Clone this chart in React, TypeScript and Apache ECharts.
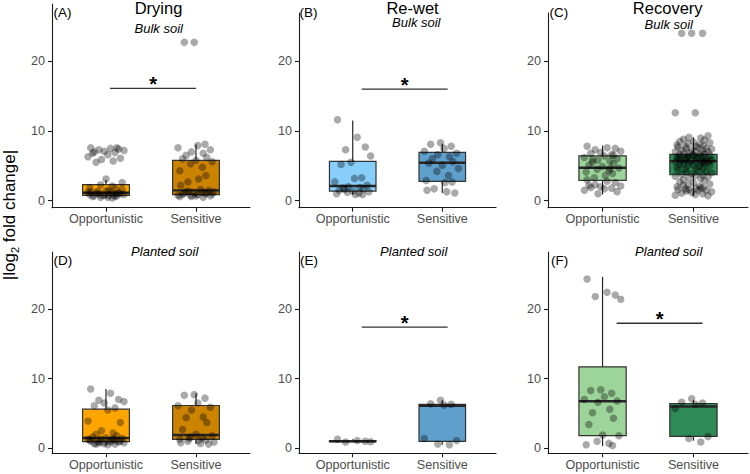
import { useEffect, useRef } from "react";
import * as echarts from "echarts";

// ---------- data ----------
const GROUPS = ["Opportunistic", "Sensitive"];
const PHASES = ["Drying", "Re-wet", "Recovery"];
const PANEL_TAGS = ["(A)", "(B)", "(C)", "(D)", "(E)", "(F)"];
const SOILS = ["Bulk soil", "Bulk soil", "Bulk soil", "Planted soil", "Planted soil", "Planted soil"];
const Y_TICKS = [0, 10, 20];
const X_TICKS = [1, 2];

// box statistics: [lower whisker, Q1, median, Q3, upper whisker]
const BOX_A = [[0.4, 0.76, 1.15, 2.3, 3.0], [0.5, 0.86, 1.48, 5.78, 8.07]];
const BOX_B = [[0.9, 1.38, 2.1, 5.63, 11.5], [1.1, 2.77, 5.44, 6.92, 8.16]];
const BOX_C = [[0.9, 2.91, 4.73, 6.44, 7.9], [0.7, 3.72, 5.68, 6.63, 9.1]];
const BOX_D = [[0.4, 0.95, 1.48, 5.62, 8.5], [0.6, 1.29, 1.9, 6.14, 7.9]];
const BOX_E = [[0.9, 0.95, 1.0, 1.1, 1.3], [0.5, 1.0, 6.1, 6.29, 6.9]];
const BOX_F = [[0.3, 1.81, 6.76, 11.7, 24.6], [1.1, 1.71, 6.0, 6.43, 6.9]];

// individual |log2 fold change| values
const A_OPP = [7.6, 7.5, 7.4, 7.3, 7.2, 7.1, 7.0, 6.9, 6.6, 6.3, 6.1, 5.9, 5.7, 5.5, 7.6, 6.8,
  3.1, 2.6, 2.3, 2.1, 1.9, 1.7, 1.5, 1.4, 1.3, 1.2, 1.1, 1.0, 0.9, 0.8, 0.7, 0.6, 0.5, 1.2, 1.0,
  0.8, 0.9, 1.1, 0.7, 0.6, 1.4, 1.6, 0.5, 0.4, 0.9, 1.0, 0.8];
const A_SEN = [22.7, 22.7, 8.1, 7.9, 7.6, 7.3, 7.0, 6.8, 6.5, 6.2, 6.0, 5.8, 5.6, 5.3, 4.8, 4.3,
  3.6, 3.1, 2.7, 2.2, 1.6, 1.5, 1.4, 1.3, 1.2, 1.1, 1.0, 0.9, 0.8, 0.7, 0.6, 0.5, 1.3, 1.1, 0.9,
  0.7, 1.0, 0.8, 1.2, 0.6];
const B_OPP = [11.6, 9.1, 7.7, 7.3, 6.4, 5.5, 5.2, 3.3, 3.2, 2.7, 2.2, 2.0, 1.9, 1.8, 1.7, 1.5,
  1.4, 1.3, 1.2, 1.1, 1.0, 0.9, 0.9, 1.6];
const B_SEN = [8.3, 8.1, 7.8, 7.5, 7.1, 6.8, 6.6, 6.3, 6.0, 5.6, 5.4, 5.1, 4.6, 4.2, 3.6, 2.9,
  2.7, 2.6, 1.7, 1.5, 1.3, 1.1];
const C_OPP = [7.8, 7.6, 7.5, 7.3, 7.1, 6.9, 6.8, 6.6, 6.4, 6.2, 6.0, 5.8, 5.7, 5.5, 5.3, 5.1,
  4.9, 4.7, 4.5, 4.3, 4.1, 3.9, 3.6, 3.3, 3.0, 2.8, 2.6, 2.3, 2.1, 2.0, 1.9, 1.8, 1.7, 1.5, 1.3,
  1.0, 4.6, 5.9, 6.5, 2.2];
const C_SEN = [24.0, 24.0, 24.0, 12.6, 12.6, 9.3, 9.1, 9.0, 8.8, 8.7, 8.5, 8.4, 8.3, 8.2, 8.1,
  8.0, 7.9, 7.8, 7.8, 7.7, 7.6, 7.5, 7.5, 7.4, 7.3, 7.2, 7.2, 7.1, 7.0, 7.0, 6.9, 6.8, 6.8, 6.7,
  6.6, 6.6, 6.5, 6.4, 6.4, 6.3, 6.2, 6.2, 6.1, 6.0, 6.0, 5.9, 5.9, 5.8, 5.8, 5.7, 5.7, 5.6, 5.6,
  5.5, 5.5, 5.4, 5.3, 5.3, 5.2, 5.1, 5.0, 5.0, 4.9, 4.8, 4.7, 4.6, 4.5, 4.4, 4.3, 4.2, 4.1, 4.0,
  3.9, 3.8, 3.7, 3.6, 3.5, 3.4, 3.3, 3.2, 3.0, 2.9, 2.7, 2.6, 2.4, 2.3, 2.1, 2.0, 1.9, 1.8, 1.7,
  1.6, 1.5, 1.5, 1.4, 1.3, 1.2, 1.1, 1.0, 0.9, 0.8, 0.7, 1.6, 1.8, 2.2, 5.6, 6.1, 6.5, 5.8, 6.3];
const D_OPP = [8.5, 7.9, 7.0, 6.9, 6.7, 6.5, 6.1, 5.8, 5.5, 3.9, 3.7, 2.5, 2.2, 2.0, 1.8, 1.6,
  1.5, 1.4, 1.3, 1.2, 1.2, 1.1, 1.1, 1.0, 1.0, 0.9, 0.9, 0.8, 0.8, 0.7, 0.7, 0.6, 0.5, 1.3, 1.0,
  0.9, 1.4, 0.6];
const D_SEN = [7.7, 7.6, 7.2, 6.5, 6.1, 5.9, 5.5, 4.5, 4.4, 3.7, 2.7, 2.0, 1.8, 1.6, 1.5, 1.3,
  1.2, 1.1, 1.0, 0.8, 0.7, 0.6, 1.4, 0.9];
const E_OPP = [1.3, 1.1, 1.0, 0.9, 0.95];
const E_SEN = [6.9, 6.4, 6.3, 6.2, 1.4, 1.1, 0.6, 0.5];
const F_OPP = [24.3, 22.4, 22.0, 21.8, 21.4, 8.4, 8.3, 7.9, 7.4, 7.0, 6.8, 6.6, 5.6, 5.1, 4.3,
  3.4, 1.9, 1.8, 1.0, 0.7, 0.5, 0.4];
const F_SEN = [7.1, 6.6, 6.5, 6.3, 5.7, 1.7, 1.4, 0.9];

// significance brackets: [x start, x end, y]; null = none
const SIG_A = [1.045, 2.0, 16.1];
const SIG_B = [1.1, 2.06, 16.0];
const SIG_E = [1.1, 2.06, 17.4];
const SIG_F = [1.155, 2.1, 17.95];

// ---------- styling / layout ----------
const BOXES = [BOX_A, BOX_B, BOX_C, BOX_D, BOX_E, BOX_F];
const POINTS = [[A_OPP, A_SEN], [B_OPP, B_SEN], [C_OPP, C_SEN], [D_OPP, D_SEN], [E_OPP, E_SEN], [F_OPP, F_SEN]];
const SIGS = [SIG_A, SIG_B, null, null, SIG_E, SIG_F];
const COLORS = [
  ["#FFA500", "#CC8400"],
  ["#87CEFA", "#5E9FCC"],
  ["#9DD49A", "#2E8B57"],
];
const JITTER = [-0.17, 0.05, 0.14, -0.08, 0.2, -0.02, -0.13, 0.1, 0.02, -0.2, 0.16, -0.05,
  0.08, -0.11, 0.12, -0.15, 0.0, 0.18, -0.06, 0.07, -0.18, 0.11, 0.03, -0.09];

const FONT = '"Liberation Sans", Arial, Helvetica, sans-serif';
const GRIDS = [
  { left: 52, top: 4, width: 198, height: 203.7, yMax: 28.2, yMin: -1.0 },
  { left: 299, top: 13, width: 197, height: 194.7, yMax: 26.9, yMin: -1.0 },
  { left: 548, top: 13, width: 200, height: 194.7, yMax: 26.9, yMin: -1.0 },
  { left: 52, top: 252, width: 198, height: 201.3, yMax: 28.18, yMin: -0.72 },
  { left: 299, top: 252, width: 197, height: 201.3, yMax: 28.18, yMin: -0.72 },
  { left: 548, top: 252, width: 200, height: 201.3, yMax: 28.18, yMin: -0.72 },
];
const TITLE_POS = [
  { x: 158.5, y: 7.5 }, { x: 412.5, y: 7.5 }, { x: 667.7, y: 7.5 },
];
const SUB_POS = [
  { x: 158.7, y: 28 }, { x: 416.3, y: 22.5 }, { x: 668.8, y: 24.5 },
  { x: 164.7, y: 251.8 }, { x: 413.7, y: 251.8 }, { x: 668.7, y: 251.5 },
];
const TAG_POS = [
  { x: 53.5, y: 12.5 }, { x: 299.5, y: 12.5 }, { x: 549.5, y: 12.5 },
  { x: 53.5, y: 260.5 }, { x: 300, y: 260.5 }, { x: 551, y: 260.5 },
];
const BOX_HALF = 0.26;
const AXIS_COLOR = "#1a1a1a";
const TICK_TEXT = "#4d4d4d";

function buildOption() {
  const grid: any[] = [];
  const xAxis: any[] = [];
  const yAxis: any[] = [];
  const series: any[] = [];
  const graphic: any[] = [];

  GRIDS.forEach((g, p) => {
    grid.push({ left: g.left, top: g.top, width: g.width, height: g.height, containLabel: false });
    xAxis.push({
      gridIndex: p, type: "value", min: 0.4, max: 2.6,
      splitLine: { show: false },
      axisLine: { show: true, onZero: false, lineStyle: { color: AXIS_COLOR, width: 1.1 } },
      axisTick: { show: true, customValues: X_TICKS, length: 4, lineStyle: { color: AXIS_COLOR, width: 1.1 } },
      axisLabel: {
        show: true, customValues: X_TICKS, margin: 5, fontSize: 12.6, fontFamily: FONT, color: TICK_TEXT,
        formatter: (v: number) => GROUPS[Math.round(v) - 1] ?? "",
      },
    });
    yAxis.push({
      gridIndex: p, type: "value", min: g.yMin, max: g.yMax,
      splitLine: { show: false },
      axisLine: { show: true, onZero: false, lineStyle: { color: AXIS_COLOR, width: 1.1 } },
      axisTick: { show: true, customValues: Y_TICKS, length: 4, lineStyle: { color: AXIS_COLOR, width: 1.1 } },
      axisLabel: { show: true, customValues: Y_TICKS, margin: 7, fontSize: 12.6, fontFamily: FONT, color: TICK_TEXT },
    });

    const col = p % 3;
    const boxData = BOXES[p].map((s, i) => [i + 1, ...s, i]);
    series.push({
      type: "custom", xAxisIndex: p, yAxisIndex: p, z: 2,
      encode: { x: 0, y: [1, 2, 3, 4, 5] },
      data: boxData,
      renderItem: (_params: any, api: any) => {
        const x = api.value(0);
        const lo = api.value(1), q1 = api.value(2), med = api.value(3), q3 = api.value(4), hi = api.value(5);
        const ci = api.value(6);
        const tl = api.coord([x - BOX_HALF, q3]);
        const br = api.coord([x + BOX_HALF, q1]);
        const ml = api.coord([x - BOX_HALF, med]);
        const mr = api.coord([x + BOX_HALF, med]);
        const pHi = api.coord([x, hi]);
        const pQ3 = api.coord([x, q3]);
        const pQ1 = api.coord([x, q1]);
        const pLo = api.coord([x, lo]);
        const lineStyle = { stroke: "#262626", lineWidth: 1.2 };
        return {
          type: "group",
          children: [
            { type: "line", shape: { x1: pHi[0], y1: pHi[1], x2: pQ3[0], y2: pQ3[1] }, style: lineStyle },
            { type: "line", shape: { x1: pQ1[0], y1: pQ1[1], x2: pLo[0], y2: pLo[1] }, style: lineStyle },
            {
              type: "rect",
              shape: { x: tl[0], y: tl[1], width: br[0] - tl[0], height: br[1] - tl[1] },
              style: { fill: COLORS[col][ci], stroke: "#333333", lineWidth: 1.2 },
            },
            { type: "line", shape: { x1: ml[0], y1: ml[1], x2: mr[0], y2: mr[1] }, style: { stroke: "#262626", lineWidth: 2.4 } },
          ],
        };
      },
    });

    const pts: number[][] = [];
    POINTS[p].forEach((arr, gi) => {
      arr.forEach((v, i) => pts.push([gi + 1 + JITTER[(i + gi * 5) % JITTER.length], v]));
    });
    series.push({
      type: "scatter", xAxisIndex: p, yAxisIndex: p, z: 3,
      symbol: "circle", symbolSize: 7.5,
      itemStyle: { color: "rgba(0,0,0,0.42)" },
      data: pts,
    });

    const sig = SIGS[p];
    if (sig) {
      series.push({
        type: "custom", xAxisIndex: p, yAxisIndex: p, z: 4,
        encode: { x: [0, 1], y: 2 },
        data: [sig],
        renderItem: (_params: any, api: any) => {
          const a = api.coord([api.value(0), api.value(2)]);
          const b = api.coord([api.value(1), api.value(2)]);
          return {
            type: "group",
            children: [
              { type: "line", shape: { x1: a[0], y1: a[1], x2: b[0], y2: b[1] }, style: { stroke: "#333333", lineWidth: 1.3 } },
              {
                type: "text", x: (a[0] + b[0]) / 2, y: a[1] - 4,
                style: {
                  text: "*", fontSize: 20, fontWeight: "bold", fontFamily: FONT, fill: "#000",
                  align: "center", verticalAlign: "middle", textAlign: "center", textVerticalAlign: "middle",
                },
              },
            ],
          };
        },
      });
    }

    graphic.push({
      type: "text", x: TAG_POS[p].x, y: TAG_POS[p].y,
      style: { text: PANEL_TAGS[p], fontSize: 13.5, fontFamily: FONT, fill: "#000", align: "left", verticalAlign: "middle", textAlign: "left", textVerticalAlign: "middle" },
    });
    graphic.push({
      type: "text", x: SUB_POS[p].x, y: SUB_POS[p].y,
      style: { text: SOILS[p], fontSize: 13, fontStyle: "italic", fontFamily: FONT, fill: "#000", align: "center", verticalAlign: "middle", textAlign: "center", textVerticalAlign: "middle" },
    });
  });

  PHASES.forEach((t, i) => {
    graphic.push({
      type: "text", x: TITLE_POS[i].x, y: TITLE_POS[i].y,
      style: { text: t, fontSize: 16.5, fontFamily: FONT, fill: "#000", align: "center", verticalAlign: "middle", textAlign: "center", textVerticalAlign: "middle" },
    });
  });

  graphic.push({
    type: "text", x: 9, y: 215, rotation: Math.PI / 2,
    style: {
      text: "{n||log}{s|2}{n| fold change|}",
      align: "center", verticalAlign: "middle", textAlign: "center", textVerticalAlign: "middle",
      fill: "#000",
      rich: {
        n: { fontSize: 17, fontFamily: FONT, fill: "#000", color: "#000", lineHeight: 22 },
        s: { fontSize: 11, fontFamily: FONT, fill: "#000", color: "#000", lineHeight: 11, verticalAlign: "bottom" },
      },
    },
  });

  return { animation: false, backgroundColor: "#ffffff", grid, xAxis, yAxis, series, graphic };
}

export default function App() {
  const ref = useRef<HTMLDivElement>(null);
  useEffect(() => {
    if (!ref.current) return;
    const chart = echarts.init(ref.current, undefined, { renderer: "svg" });
    chart.setOption(buildOption() as any);
    return () => chart.dispose();
  }, []);
  return <div ref={ref} style={{ position: "absolute", left: 0, top: 0, width: 750, height: 474 }} />;
}
